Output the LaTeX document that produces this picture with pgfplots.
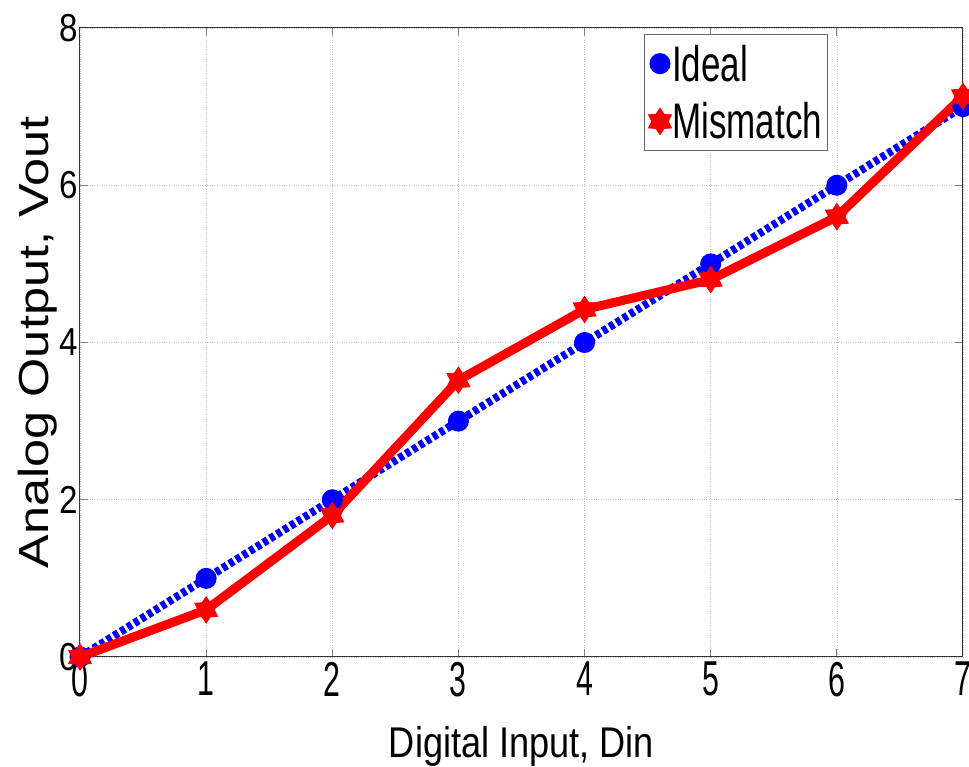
\documentclass[border=0pt]{standalone}
\usepackage{fontspec}
\setmainfont{Liberation Sans}
\usepackage{graphicx}
\usepackage{pgfplots}
\pgfplotsset{compat=1.18}

% filled six-pointed star mark
\pgfdeclareplotmark{hexstar}{%
  \pgfpathmoveto{\pgfqpointpolar{90}{\pgfplotmarksize}}%
  \pgfpathlineto{\pgfqpointpolar{120}{0.62\pgfplotmarksize}}%
  \pgfpathlineto{\pgfqpointpolar{150}{\pgfplotmarksize}}%
  \pgfpathlineto{\pgfqpointpolar{180}{0.62\pgfplotmarksize}}%
  \pgfpathlineto{\pgfqpointpolar{210}{\pgfplotmarksize}}%
  \pgfpathlineto{\pgfqpointpolar{240}{0.62\pgfplotmarksize}}%
  \pgfpathlineto{\pgfqpointpolar{270}{\pgfplotmarksize}}%
  \pgfpathlineto{\pgfqpointpolar{300}{0.62\pgfplotmarksize}}%
  \pgfpathlineto{\pgfqpointpolar{330}{\pgfplotmarksize}}%
  \pgfpathlineto{\pgfqpointpolar{0}{0.62\pgfplotmarksize}}%
  \pgfpathlineto{\pgfqpointpolar{30}{\pgfplotmarksize}}%
  \pgfpathlineto{\pgfqpointpolar{60}{0.62\pgfplotmarksize}}%
  \pgfpathclose
  \pgfusepathqfillstroke
}

% narrow digits and labels
\newcommand\xt[1]{\scalebox{0.62}[1]{#1}}
\newcommand\yt[1]{\scalebox{0.85}[1]{#1}}
\newcommand\lt[1]{\scalebox{0.7}[1]{#1}}

\begin{document}
\begin{tikzpicture}
\begin{axis}[
  at={(0pt,0pt)}, anchor=south west,
  scale only axis, width=883pt, height=629pt,
  xmin=0, xmax=7, ymin=0, ymax=8,
  xtick={0,1,2,3,4,5,6,7},
  xticklabels={\xt{0},\xt{1},\xt{2},\xt{3},\xt{4},\xt{5},\xt{6},\xt{7}},
  ytick={0,2,4,6,8},
  yticklabels={\yt{0},\yt{2},\yt{4},\yt{6},\yt{8}},
  xticklabel style={font=\fontsize{49}{49}\selectfont, inner sep=2pt, yshift=-3pt},
  yticklabel style={font=\fontsize{39}{39}\selectfont, inner sep=2pt},
  xlabel={\scalebox{0.84}[1]{Digital Input, Din}},
  ylabel={\scalebox{1.2}[1]{Analog Output, Vout}},
  xlabel style={font=\fontsize{43}{43}\selectfont, inner sep=0pt, yshift=-27pt},
  ylabel style={font=\fontsize{42}{42}\selectfont, inner sep=0pt},
  grid=major,
  grid style={dotted, gray!45, line width=0.6pt},
  major tick length=8pt,
  tick style={gray, line width=1pt},
  axis line style={line width=1pt, black!80},
  clip=false,
  legend style={
    at={(0.639,0.99)}, anchor=north west,
    draw=black!60, line width=1pt, fill=white,
    font=\fontsize{50}{50}\selectfont,
    inner xsep=4pt, inner ysep=7pt, row sep=14pt,
    nodes={inner xsep=1pt, inner ysep=3pt},
  },
  legend cell align=left,
  legend image code/.code={%
    \draw[#1, draw opacity=0] plot coordinates {(0pt,0pt)};
    \path[#1, solid] plot[mark repeat=1] coordinates {(0pt,0pt)};
  },
]
\addplot[blue, line width=8pt, dash pattern=on 5pt off 3pt,
  mark=*, mark size=10pt, mark options={solid, fill=blue, line width=1pt}]
  coordinates {(0,0) (1,1) (2,2) (3,3) (4,4) (5,5) (6,6) (7,7)};
\addlegendentry{\lt{Ideal}}
\addplot[red, line width=9pt,
  mark=hexstar, mark size=13pt, mark options={solid, fill=red, line width=1pt}]
  coordinates {(0,0) (1,0.6) (2,1.8) (3,3.52) (4,4.42) (5,4.8) (6,5.6) (7,7.13)};
\addlegendentry{\lt{Mismatch}}
\end{axis}
\pgfresetboundingbox
\path[use as bounding box] (-80pt,-110pt) rectangle (889pt,657pt);
\end{tikzpicture}
\end{document}
